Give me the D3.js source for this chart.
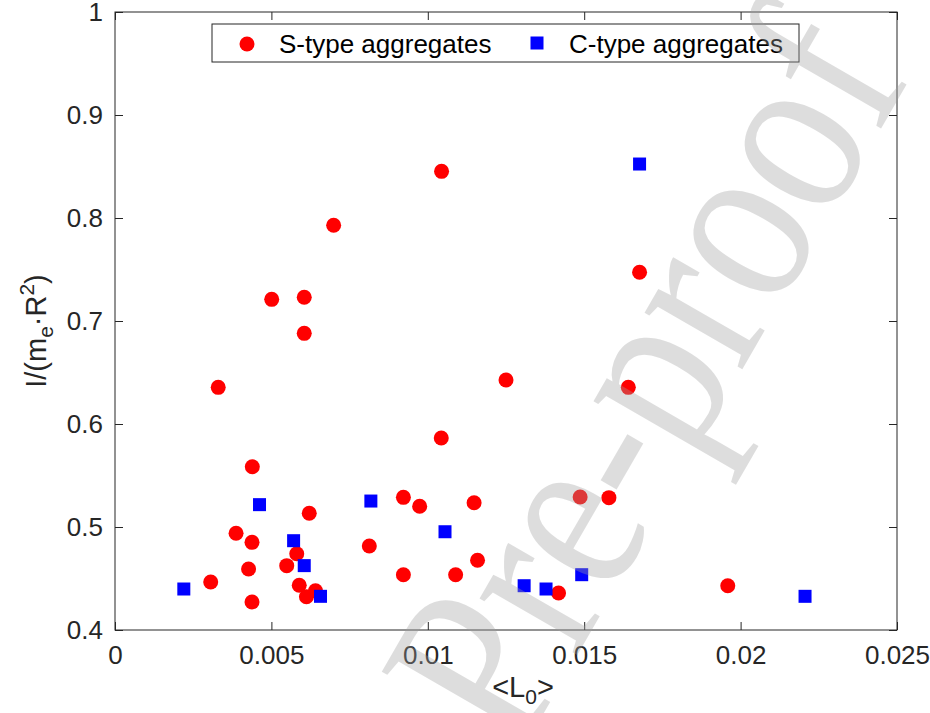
<!DOCTYPE html>
<html>
<head>
<meta charset="utf-8">
<script src="https://cdn.jsdelivr.net/npm/d3@7/dist/d3.min.js"></script>
<style>
  body { margin: 0; background: #fff; }
  svg text { font-family: "Liberation Sans", Arial, sans-serif; fill: #262626; }
</style>
</head>
<body>
<svg id="chart" width="930" height="713"></svg>
<script>
// S-type aggregates (red circles)
var sX = [0.00306, 0.00330, 0.00387, 0.00439, 0.00438, 0.00427, 0.00438, 0.00501, 0.00605, 0.00605,
          0.00621, 0.00581, 0.00549, 0.00589, 0.00612, 0.00641, 0.00699, 0.01044, 0.01043, 0.01250,
          0.01677, 0.01641, 0.00813, 0.00922, 0.00974, 0.00922, 0.01089, 0.01148, 0.01159, 0.01487,
          0.01579, 0.01418, 0.01959];
var sY = [0.4466, 0.6356, 0.4939, 0.5585, 0.4851, 0.4592, 0.4272, 0.7210, 0.7230, 0.6880,
          0.5133, 0.4740, 0.4625, 0.4434, 0.4323, 0.4380, 0.7930, 0.8453, 0.5864, 0.6427,
          0.7473, 0.6356, 0.4816, 0.5288, 0.5201, 0.4537, 0.4537, 0.5236, 0.4677, 0.5291,
          0.5285, 0.4359, 0.4430];
// C-type aggregates (blue squares)
var cX = [0.00220, 0.00462, 0.00571, 0.00605, 0.00657, 0.00818, 0.01055, 0.01308, 0.01378, 0.01492,
          0.01677, 0.02206];
var cY = [0.4398, 0.5217, 0.4867, 0.4625, 0.4327, 0.5252, 0.4954, 0.4430, 0.4398, 0.4537,
          0.8524, 0.4327];

var xTicks = [0, 0.005, 0.01, 0.015, 0.02, 0.025];
var xTickLabels = ["0", "0.005", "0.01", "0.015", "0.02", "0.025"];
var yTicks = [0.4, 0.5, 0.6, 0.7, 0.8, 0.9, 1];
var yTickLabels = ["0.4", "0.5", "0.6", "0.7", "0.8", "0.9", "1"];
var seriesNames = ["S-type aggregates", "C-type aggregates"];

var margin = {top: 12, right: 33, bottom: 83, left: 115},
    width = 930 - margin.left - margin.right,
    height = 713 - margin.top - margin.bottom,
    fontSize = 26,
    labelSize = 29,
    axisColor = "#262626";

var svg = d3.select("#chart");
var g = svg.append("g")
    .attr("transform", "translate(" + margin.left + "," + margin.top + ")");

var x = d3.scaleLinear().domain([0, 0.025]).range([0, width]);
var y = d3.scaleLinear().domain([0.4, 1]).range([height, 0]);

// points
var sData = sX.map(function(d, i) { return {x: d, y: sY[i]}; });
var cData = cX.map(function(d, i) { return {x: d, y: cY[i]}; });

g.selectAll("circle.s").data(sData).enter()
  .append("circle")
    .attr("class", "s")
    .attr("cx", function(d) { return x(d.x); })
    .attr("cy", function(d) { return y(d.y); })
    .attr("r", 7.5)
    .style("fill", "#ff0000");

var sq = 13;
g.selectAll("rect.c").data(cData).enter()
  .append("rect")
    .attr("class", "c")
    .attr("x", function(d) { return x(d.x) - sq / 2; })
    .attr("y", function(d) { return y(d.y) - sq / 2; })
    .attr("width", sq)
    .attr("height", sq)
    .style("fill", "#0000ff");

// axes (ticks inside, box)
function styleAxis(sel) {
  sel.select(".domain").remove();
  sel.selectAll(".tick line").attr("stroke", axisColor);
  sel.selectAll(".tick text")
    .style("font-size", fontSize + "px")
    .style("fill", axisColor)
    .style("font-family", "'Liberation Sans', Arial, sans-serif");
}

g.append("g")
    .attr("transform", "translate(0," + height + ")")
    .call(d3.axisBottom(x).tickValues(xTicks)
      .tickFormat(function(d, i) { return xTickLabels[i]; })
      .tickSizeInner(-8).tickSizeOuter(0).tickPadding(16))
    .call(styleAxis);

g.append("g")
    .call(d3.axisTop(x).tickValues(xTicks).tickFormat("")
      .tickSizeInner(-8).tickSizeOuter(0))
    .call(styleAxis);

g.append("g")
    .call(d3.axisLeft(y).tickValues(yTicks)
      .tickFormat(function(d, i) { return yTickLabels[i]; })
      .tickSizeInner(-8).tickSizeOuter(0).tickPadding(12))
    .call(styleAxis);

g.append("g")
    .attr("transform", "translate(" + width + ",0)")
    .call(d3.axisRight(y).tickValues(yTicks).tickFormat("")
      .tickSizeInner(-8).tickSizeOuter(0))
    .call(styleAxis);

g.append("rect")
    .attr("width", width)
    .attr("height", height)
    .style("fill", "none")
    .style("stroke", axisColor)
    .style("stroke-width", 1);

// axis labels
var xl = svg.append("text")
    .attr("x", 523)
    .attr("y", 697)
    .attr("text-anchor", "middle")
    .style("font-size", labelSize + "px");
xl.append("tspan").text("<L");
xl.append("tspan").attr("dy", 7).style("font-size", "21px").text("0");
xl.append("tspan").attr("dy", -7).text(">");

var yl = svg.append("text")
    .attr("transform", "translate(46,331) rotate(-90)")
    .attr("text-anchor", "middle")
    .style("font-size", labelSize + "px");
yl.append("tspan").text("I/(m");
yl.append("tspan").attr("dy", 7).style("font-size", "21px").text("e");
yl.append("tspan").attr("dy", -7).text("\u00B7R");
yl.append("tspan").attr("dy", -12).style("font-size", "21px").text("2");
yl.append("tspan").attr("dy", 12).text(")");

// legend
var lg = g.append("g").attr("transform", "translate(" + (212 - margin.left) + "," + (24 - margin.top) + ")");
lg.append("rect")
    .attr("width", 587)
    .attr("height", 38)
    .style("fill", "#fff")
    .style("stroke", axisColor)
    .style("stroke-width", 1);
lg.append("circle").attr("cx", 35).attr("cy", 20).attr("r", 7.5).style("fill", "#ff0000");
lg.append("text").attr("x", 67).attr("y", 20).attr("dy", "0.35em")
    .style("font-size", fontSize + "px").style("fill", "#000").text(seriesNames[0]);
lg.append("rect").attr("x", 325 - 6.5).attr("y", 19 - 6.5).attr("width", 13).attr("height", 13)
    .style("fill", "#0000ff");
lg.append("text").attr("x", 357).attr("y", 20).attr("dy", "0.35em")
    .style("font-size", fontSize + "px").style("fill", "#000").text(seriesNames[1]);

// watermark
svg.append("text")
    .attr("transform", "translate(911,77) rotate(-60) scale(1,1.2)")
    .attr("text-anchor", "end")
    .style("font-family", "'Liberation Serif', 'DejaVu Serif', serif")
    .style("font-size", "205px")
    .style("fill", "#a0a0a0")
    .style("opacity", 0.35)
    .text("Journal Pre-proof");
</script>
</body>
</html>
